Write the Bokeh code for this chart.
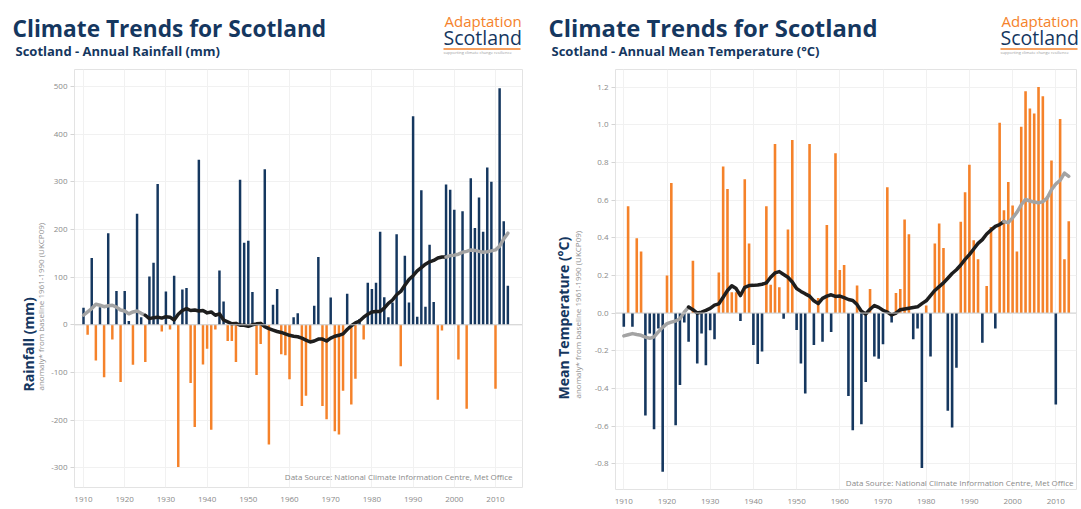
import math
from bokeh.plotting import figure
from bokeh.models import Range1d, Label, Span, ColumnDataSource, FixedTicker, PrintfTickFormatter
from bokeh.layouts import row, column
from bokeh.embed import file_html
from bokeh.resources import INLINE

# ---------------- data ----------------
years = list(range(1910, 2014))

rain_anomaly = [
    36, -21, 140, -75, 37, -110, 192, -31, 71, -120,
    71, 8, -84, 233, 16, -78, 101, 130, 295, -14,
    70, -10, 103, -298, 74, 77, -122, -214, 346, -83,
    -50, -220, -10, 114, 49, -34, -34, -78, 304, 172,
    176, 69, -105, -40, 326, -251, 42, 75, -62, -64,
    -114, 16, 24, -170, -149, -35, 40, 142, -170, -198,
    57, -223, -230, -138, 65, -167, -113, 12, -31, 88,
    75, 88, 195, 58, 16, 47, 190, -87, 145, 47,
    437, 17, 282, 38, 168, 48, -157, -12, 294, 283,
    241, -73, 238, -176, 307, 203, 267, 195, 330, 300,
    -134, 496, 217, 82,
]

rain_smooth = [
    20, 27, 34, 43, 41, 38, 40, 41, 37, 31,
    29, 23, 27, 29, 24, 20, 13, 15, 16, 14,
    17, 16, 10, 22, 30, 34, 30, 31, 29, 30,
    25, 27, 20, 23, 10, 6, 2, 3, -1, -1,
    -3, 0, 2, 3, -4, -8, -11, -14, -16, -19,
    -22, -24, -25, -28, -32, -36, -34, -30, -30, -34,
    -28, -24, -22, -19, -10, -2, 4, 8, 16, 22,
    27, 28, 28, 35, 45, 52, 63, 70, 83, 95,
    103, 113, 120, 127, 132, 135, 140, 142, 142, 145,
    146, 148, 152, 154, 157, 156, 154, 152, 153, 155,
    157, 165, 180, 192,
]

temp_anomaly = [
    -0.073, 0.567, -0.073, 0.397, 0.327, -0.544, -0.108, -0.617, -0.082, -0.843,
    0.199, 0.69, -0.596, -0.382, -0.05, -0.152, 0.278, -0.268, -0.108, -0.277,
    -0.091, -0.139, 0.216, 0.778, 0.659, 0.11, 0.11, -0.042, 0.71, 0.369,
    -0.169, -0.27, -0.204, 0.567, 0.15, 0.898, 0.137, -0.03, 0.444, 0.919,
    -0.09, -0.268, -0.427, 0.898, -0.169, 0.08, -0.152, 0.467, -0.1, 0.849,
    0.228, 0.255, -0.44, -0.622, 0.146, -0.59, -0.366, 0.128, -0.23, -0.242,
    -0.166, 0.668, -0.05, 0.107, 0.128, 0.497, 0.418, -0.139, -0.082, -0.823,
    0.04, -0.23, 0.369, 0.476, 0.346, -0.518, -0.608, -0.291, 0.485, 0.641,
    0.787, 0.386, 0.286, -0.157, 0.144, 0.457, -0.082, 1.01, 0.546, 0.696,
    0.571, 0.327, 0.989, 1.177, 1.086, 1.06, 1.2, 1.151, 0.62, 0.81,
    -0.486, 1.03, 0.286, 0.488,
]

temp_smooth = [
    -0.121, -0.115, -0.109, -0.114, -0.118, -0.128, -0.134, -0.126, -0.1, -0.076,
    -0.056, -0.048, -0.042, -0.03, 0.005, 0.032, 0.018, 0.0, 0.005, 0.014,
    0.025, 0.042, 0.049, 0.084, 0.12, 0.145, 0.13, 0.093, 0.137, 0.146,
    0.147, 0.149, 0.153, 0.16, 0.19, 0.213, 0.22, 0.205, 0.19, 0.165,
    0.13, 0.115, 0.102, 0.09, 0.065, 0.05, 0.078, 0.09, 0.097, 0.088,
    0.09, 0.082, 0.072, 0.067, 0.045, 0.01, -0.005, 0.02, 0.04, 0.03,
    0.015, 0.005, -0.01, 0.0, 0.018, 0.022, 0.026, 0.03, 0.033, 0.05,
    0.065, 0.093, 0.12, 0.14, 0.16, 0.185, 0.21, 0.23, 0.255, 0.285,
    0.31, 0.34, 0.37, 0.39, 0.42, 0.44, 0.46, 0.47, 0.485, 0.48,
    0.505, 0.535, 0.575, 0.603, 0.595, 0.59, 0.585, 0.592, 0.61, 0.655,
    0.685, 0.705, 0.743, 0.726,
]

decade_ticks = list(range(1910, 2011, 10))
rain_ticks = [-300, -200, -100, 0, 100, 200, 300, 400, 500]
temp_ticks = [-0.8, -0.6, -0.4, -0.2, 0.0, 0.2, 0.4, 0.6, 0.8, 1.0, 1.2]
early_end_year = 1925
late_start_year = 1998

main_title = "Climate Trends for Scotland"
rain_subtitle = "Scotland - Annual Rainfall (mm)"
temp_subtitle = "Scotland - Annual Mean Temperature (°C)"
rain_ylabel = "Rainfall (mm)"
temp_ylabel = "Mean Temperature (°C)"
anomaly_note = "anomaly* from baseline 1961-1990 (UKCP09)"
source_note = "Data Source: National Climate Information Centre, Met Office"

# ---------------- style ----------------
NAVY = "#15375f"
ORANGE = "#f5822a"
BLACK = "#1e1e1e"
GREY_LINE = "#a3a3a3"
TICK_GREY = "#8a8a8a"
FONT = "Open Sans"
HEAD_H = 68
CHART_H = 438
SIDE_W = 48


def blank(W, H):
    f = figure(width=W, height=H, x_range=Range1d(0, W), y_range=Range1d(H, 0),
               output_backend="svg", toolbar_location=None,
               x_axis_location=None, y_axis_location=None, min_border=0,
               outline_line_color=None)
    f.grid.visible = False
    f.frame_align = False
    return f


def header(W, tx, sx, lx, subtitle, tsize):
    h = blank(W, HEAD_H)
    h.add_layout(Label(x=tx, y=27.5, text=main_title, text_font=FONT, text_font_style="bold",
                       text_font_size=tsize, text_color=NAVY, text_baseline="alphabetic"))
    h.add_layout(Label(x=sx, y=50, text=subtitle, text_font=FONT, text_font_style="bold",
                       text_font_size="13px", text_color=NAVY, text_baseline="alphabetic"))
    h.add_layout(Label(x=lx + 1, y=20.5, text="Adaptation", text_font=FONT,
                       text_font_size="15px", text_color=ORANGE, text_baseline="alphabetic"))
    h.add_layout(Label(x=lx, y=36.5, text="Scotland", text_font=FONT,
                       text_font_size="19.5px", text_color=NAVY, text_baseline="alphabetic"))
    h.segment(x0=[lx], y0=[48.5], x1=[lx + 77], y1=[48.5], line_color=ORANGE, line_width=1.5)
    h.add_layout(Label(x=lx, y=51.5, text="supporting climate change resilience", text_font=FONT,
                       text_font_size="4px", text_color="#9a9a9a", text_baseline="alphabetic"))
    return h


def side(ylabel, x1, x2, bottom):
    s = blank(SIDE_W, CHART_H)
    s.add_layout(Label(x=x1, y=bottom, text=ylabel, angle=math.pi / 2,
                       text_align="left", text_baseline="middle", text_font=FONT,
                       text_font_style="bold", text_font_size="14px", text_color=NAVY))
    s.add_layout(Label(x=x2, y=bottom - 1, text=anomaly_note, angle=math.pi / 2,
                       text_align="left", text_baseline="middle", text_font=FONT,
                       text_font_size="8px", text_color="#8f8f8f"))
    return s


def chart(W, fl, fr, ft, fb, xr, yr, values, smooth, pos_color, neg_color, yticks, yfmt):
    p = figure(width=W, height=CHART_H, x_range=Range1d(*xr), y_range=Range1d(*yr),
               output_backend="svg", toolbar_location=None,
               min_border_left=fl, min_border_right=W - fr,
               min_border_top=ft, min_border_bottom=CHART_H - fb)
    p.frame_align = False
    p.outline_line_color = "#e3e3e3"
    p.xgrid.ticker = FixedTicker(ticks=decade_ticks)
    p.xgrid.grid_line_color = "#f1f1f1"
    p.ygrid.ticker = FixedTicker(ticks=yticks)
    p.ygrid.grid_line_color = "#f1f1f1"

    p.xaxis.ticker = FixedTicker(ticks=decade_ticks)
    p.yaxis.ticker = FixedTicker(ticks=yticks)
    p.yaxis.formatter = PrintfTickFormatter(format=yfmt)
    for ax in (p.xaxis, p.yaxis):
        ax.axis_line_color = None
        ax.minor_tick_line_color = None
        ax.major_label_text_font = FONT
        ax.major_label_text_font_size = "8px"
        ax.major_label_text_color = TICK_GREY
    p.xaxis.major_tick_line_color = None
    p.xaxis.major_label_standoff = 3
    p.yaxis.major_tick_line_color = "#d5d5d5"
    p.yaxis.major_tick_in = 0
    p.yaxis.major_tick_out = 4
    p.yaxis.major_label_standoff = 3

    p.add_layout(Span(location=0, dimension="width", line_color="#cfcfcf", line_width=1))

    colors = [pos_color if v >= 0 else neg_color for v in values]
    src = ColumnDataSource(dict(year=years, val=values, color=colors))
    p.vbar(x="year", top="val", bottom=0, width=0.6, fill_color="color",
           line_color=None, source=src)

    i1 = years.index(early_end_year)
    i2 = years.index(late_start_year)
    p.line(years[:i1 + 1], smooth[:i1 + 1], line_color=GREY_LINE, line_width=3.5,
           line_cap="round", line_join="round")
    p.line(years[i1:i2 + 1], smooth[i1:i2 + 1], line_color=BLACK, line_width=3.5,
           line_cap="round", line_join="round")
    p.line(years[i2:], smooth[i2:], line_color=GREY_LINE, line_width=3.5,
           line_cap="round", line_join="round")
    return p


# ---------------- left panel: rainfall ----------------
# chart figure occupies picture x 48..540, y 68..506
# frame: x 74..522, y 69..487 ; zero at y=324.3 ; 0.477 px/mm ; 4.12 px/yr
W1 = 540
CW1 = W1 - SIDE_W
L_x0 = 1910 - (83 - 74) / 4.12
L_x1 = 1910 + (522 - 83) / 4.12
L_y1 = (324.3 - 69) / 0.477
L_y0 = -(487 - 324.3) / 0.477

h1 = header(W1, 12, 15, 443, rain_subtitle, "22.7px")
s1 = side(rain_ylabel, 28, 40, 391 - HEAD_H)
c1 = chart(CW1, 74 - 48, 522 - 48, 1, 487 - HEAD_H, (L_x0, L_x1), (L_y0, L_y1),
           rain_anomaly, rain_smooth, NAVY, ORANGE, rain_ticks, "%d")
c1.add_layout(Label(x=L_x0 + (512 - 74) / 4.12, y=(324.3 - 476) / 0.477, text=source_note,
                    text_align="right", text_baseline="middle", text_font=FONT,
                    text_font_size="8px", text_color="#8a8a8a"))

# ---------------- right panel: temperature ----------------
# chart figure occupies picture x 588..1078, y 68..506
# frame: x 615..1076, y 69..492 ; zero at y=314.3 ; 189.7 px/degC ; 4.32 px/yr
W2 = 538
CW2 = W2 - SIDE_W
R_x0 = 1910 - (623.3 - 615) / 4.32
R_x1 = 1910 + (1076 - 623.3) / 4.32
R_y1 = (314.3 - 69) / 189.7
R_y0 = -(492 - 314.3) / 189.7

h2 = header(W2, 8, 11, 460, temp_subtitle, "23.8px")
s2 = side(temp_ylabel, 563 - 540, 577 - 540, 399 - HEAD_H)
c2 = chart(CW2, 615 - 588, 1076 - 588, 1, 492 - HEAD_H, (R_x0, R_x1), (R_y0, R_y1),
           temp_anomaly, temp_smooth, ORANGE, NAVY, temp_ticks, "%.1f")
c2.add_layout(Label(x=R_x0 + (1073 - 615) / 4.32, y=(314.3 - 485) / 189.7, text=source_note,
                    text_align="right", text_baseline="middle", text_font=FONT,
                    text_font_size="8px", text_color="#8a8a8a"))

layout = row(column(h1, row(s1, c1)), column(h2, row(s2, c2)))

open("out.html", "w").write(file_html(layout, INLINE))
